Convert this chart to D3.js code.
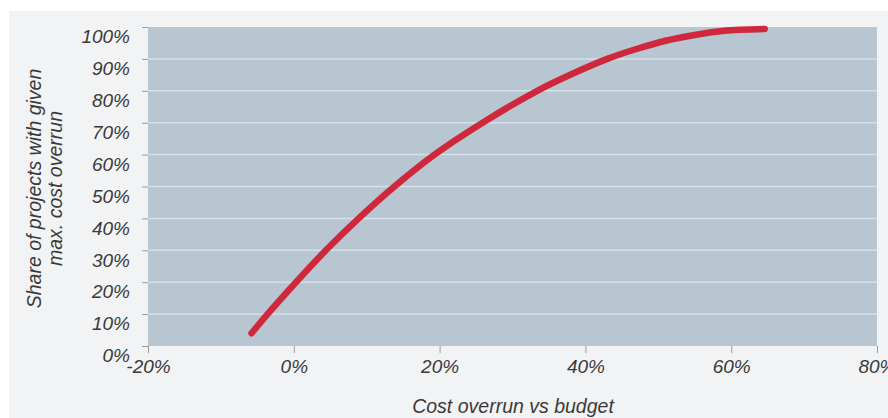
<!DOCTYPE html>
<html>
<head>
<meta charset="utf-8">
<script src="https://cdn.jsdelivr.net/npm/d3@7"></script>
<style>
  html, body { margin: 0; padding: 0; background: #ffffff; }
  svg { display: block; }
  text { font-family: "Liberation Sans", Arial, Helvetica, sans-serif; font-style: italic; fill: #3a3a3a; }
</style>
</head>
<body>
<svg id="chart" width="888" height="418"></svg>
<script>
// Cumulative distribution: cost overrun (%) vs share of projects (%)
const overrun = [-5.8, -3.6, 0.3, 4.4, 8.9, 13.8, 19.3, 25.9, 33.4, 38.0, 43.0, 47.0, 51.0, 55.0, 59.0, 64.6];
const share   = [4, 10, 20, 30, 40, 50, 60, 70, 80, 85.1, 90.0, 93.1, 95.7, 97.5, 98.8, 99.4];

const xTicks = [-20, 0, 20, 40, 60, 80];
const yTicks = [0, 10, 20, 30, 40, 50, 60, 70, 80, 90, 100];

const xTitle = "Cost overrun vs budget";
const yTitleLines = ["Share of projects with given", "max. cost overrun"];

const svg = d3.select("#chart");
const W = 888, H = 418;
const plot = { left: 148, top: 27, right: 877, bottom: 346 };

// Panel background
svg.append("rect")
  .attr("x", 9).attr("y", 11)
  .attr("width", W - 9).attr("height", H - 11)
  .attr("fill", "#f2f3f5");

const x = d3.scaleLinear().domain([-20, 80]).range([plot.left, plot.right]);
const y = d3.scaleLinear().domain([0, 100]).range([plot.bottom, plot.top]);

// Plot area
svg.append("rect")
  .attr("x", plot.left).attr("y", plot.top)
  .attr("width", plot.right - plot.left).attr("height", plot.bottom - plot.top)
  .attr("fill", "#b7c6d0");

// Horizontal gridlines
svg.append("g").selectAll("line")
  .data(yTicks.filter(d => d > 0 && d < 100))
  .join("line")
  .attr("x1", plot.left).attr("x2", plot.right)
  .attr("y1", d => y(d)).attr("y2", d => y(d))
  .attr("stroke", "#d6e0e7").attr("stroke-width", 1.5);

// Y axis: ticks with labels set below each tick
const yAxis = svg.append("g")
  .attr("transform", `translate(${plot.left},0)`)
  .call(d3.axisLeft(y).tickValues(yTicks).tickSize(6).tickFormat(d => d + "%"));
yAxis.select(".domain").remove();
yAxis.selectAll(".tick line").attr("stroke", "#9a9a9a");
yAxis.selectAll(".tick text")
  .attr("x", -18).attr("dy", "0.83em")
  .attr("font-size", 19).attr("fill", "#3a3a3a")
  .style("font-family", "'Liberation Sans', Arial, sans-serif").style("font-style", "italic");

// X axis
const xAxis = svg.append("g")
  .attr("transform", `translate(0,${plot.bottom})`)
  .call(d3.axisBottom(x).tickValues(xTicks).tickSize(7).tickFormat(d => d + "%"));
xAxis.select(".domain").remove();
xAxis.selectAll(".tick line").attr("stroke", "#9a9a9a");
xAxis.selectAll(".tick text")
  .attr("y", 14).attr("dy", "0.71em")
  .attr("font-size", 19).attr("fill", "#3a3a3a")
  .style("font-family", "'Liberation Sans', Arial, sans-serif").style("font-style", "italic");

// Curve
const pts = overrun.map((v, i) => [v, share[i]]);
svg.append("path")
  .datum(pts)
  .attr("d", d3.line().x(d => x(d[0])).y(d => y(d[1])).curve(d3.curveCatmullRom.alpha(0.5)))
  .attr("fill", "none")
  .attr("stroke", "#cf283c")
  .attr("stroke-width", 6.5)
  .attr("stroke-linecap", "round")
  .attr("stroke-linejoin", "round");

// Axis titles
svg.append("text")
  .attr("x", (plot.left + 877) / 2 + 0.5).attr("y", 413)
  .attr("text-anchor", "middle")
  .attr("font-size", 19.5)
  .text(xTitle);

const yt = svg.append("text")
  .attr("transform", `translate(0,${(plot.top + plot.bottom) / 2 + 2}) rotate(-90)`)
  .attr("text-anchor", "middle")
  .attr("font-size", 19.5);
yt.selectAll("tspan")
  .data(yTitleLines)
  .join("tspan")
  .attr("x", 0)
  .attr("y", (d, i) => 41 + i * 21)
  .text(d => d);
</script>
</body>
</html>
